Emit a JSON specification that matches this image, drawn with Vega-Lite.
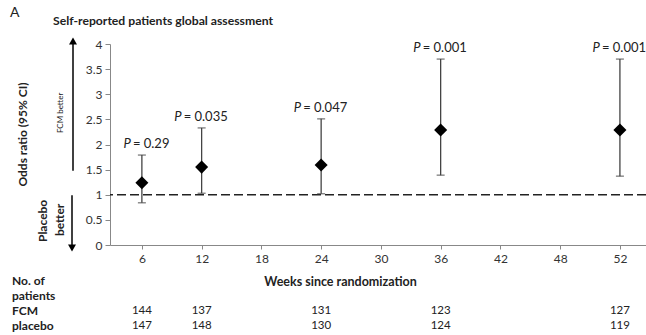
{
  "$schema": "https://vega.github.io/schema/vega-lite/v6.json",
  "width": 536,
  "height": 201,
  "autosize": {"type": "none"},
  "padding": {"left": 110, "top": 44, "right": 0, "bottom": 90},
  "background": "white",
  "config": {
    "font": "Lato",
    "view": {"stroke": null},
    "axis": {"grid": false},
    "axisY": {"tickCount": 9, "labelOverlap": false}
  },
  "datasets": {
    "odds": [
      {"week": 6, "or": 1.24, "lo": 0.84, "hi": 1.79, "p": "0.29"},
      {"week": 12, "or": 1.55, "lo": 1.03, "hi": 2.33, "p": "0.035"},
      {"week": 24, "or": 1.59, "lo": 1.02, "hi": 2.51, "p": "0.047"},
      {"week": 36, "or": 2.29, "lo": 1.39, "hi": 3.70, "p": "0.001"},
      {"week": 52, "or": 2.29, "lo": 1.37, "hi": 3.70, "p": "0.001"}
    ],
    "patients": [
      {"week": 6, "row": "FCM", "n": 144},
      {"week": 12, "row": "FCM", "n": 137},
      {"week": 24, "row": "FCM", "n": 131},
      {"week": 36, "row": "FCM", "n": 123},
      {"week": 52, "row": "FCM", "n": 127},
      {"week": 6, "row": "placebo", "n": 147},
      {"week": 12, "row": "placebo", "n": 148},
      {"week": 24, "row": "placebo", "n": 130},
      {"week": 36, "row": "placebo", "n": 124},
      {"week": 52, "row": "placebo", "n": 119}
    ],
    "rowLabels": [
      {"row": "No. of"},
      {"row": "patients"},
      {"row": "FCM"},
      {"row": "placebo"}
    ]
  },
  "layer": [
    {
      "data": {"name": "odds"},
      "encoding": {
        "x": {
          "field": "week",
          "type": "ordinal",
          "scale": {
            "type": "point",
            "domain": [6, 12, 18, 24, 30, 36, 42, 48, 52],
            "padding": 0.485,
            "align": 0.55
          },
          "axis": {
            "title": "Weeks since randomization",
            "labelAngle": 0,
            "tickSize": 4,
            "labelPadding": 4,
            "labelFontSize": 12,
            "labelColor": "#333333",
            "domainColor": "#888888",
            "tickColor": "#888888",
            "titleFontSize": 12.5,
            "titleFontWeight": "bold",
            "titleColor": "#222222",
            "titleX": 230,
            "titleY": 36,
            "titleBaseline": "middle"
          }
        }
      },
      "layer": [
        {
          "mark": {"type": "rule", "color": "#444444", "strokeWidth": 1.3},
          "encoding": {
            "y": {
              "field": "lo",
              "type": "quantitative",
              "scale": {"domain": [0, 4], "nice": false},
              "axis": {
                "title": "Odds ratio (95% CI)",
                "values": [0, 0.5, 1, 1.5, 2, 2.5, 3, 3.5, 4],
                "tickCount": 9,
                "labelOverlap": false,
                "format": "~g",
                "tickSize": 5,
                "labelPadding": 3,
                "labelFontSize": 12,
                "labelColor": "#333333",
                "domainColor": "#888888",
                "tickColor": "#888888",
                "titleFontSize": 12,
                "titleFontWeight": "bold",
                "titleColor": "#222222",
                "titleAngle": -90,
                "titleX": -88,
                "titleY": 90,
                "titleBaseline": "middle"
              }
            },
            "y2": {"field": "hi"}
          }
        },
        {
          "data": {"values": [{}]},
          "mark": {"type": "rule", "color": "#222222", "strokeWidth": 1.6, "strokeDash": [9, 4]},
          "encoding": {"x": null, "y": {"datum": 1}}
        },
        {
          "mark": {"type": "tick", "color": "#444444", "size": 8, "thickness": 1.3},
          "encoding": {"y": {"field": "hi", "type": "quantitative"}}
        },
        {
          "mark": {"type": "tick", "color": "#444444", "size": 8, "thickness": 1.3},
          "encoding": {"y": {"field": "lo", "type": "quantitative"}}
        },
        {
          "mark": {"type": "point", "shape": "diamond", "filled": true, "color": "black", "size": 170, "opacity": 1},
          "encoding": {"y": {"field": "or", "type": "quantitative"}}
        },
        {
          "mark": {
            "type": "text",
            "text": "P",
            "fontStyle": "italic",
            "fontSize": 13,
            "color": "#222222",
            "align": "right",
            "baseline": "middle",
            "dy": -11,
            "dx": {"expr": "length(datum.p) > 4 ? -20 : -11"}
          },
          "encoding": {"y": {"field": "hi", "type": "quantitative"}}
        },
        {
          "mark": {
            "type": "text",
            "text": {"expr": "'= ' + datum.p"},
            "fontSize": 13,
            "color": "#222222",
            "align": "left",
            "baseline": "middle",
            "dy": -11,
            "dx": {"expr": "length(datum.p) > 4 ? -18 : -9"}
          },
          "encoding": {"y": {"field": "hi", "type": "quantitative"}}
        },
        {
          "data": {"values": [{}]},
          "mark": {"type": "rule", "color": "black", "strokeWidth": 1.5},
          "encoding": {"x": {"value": -37}, "y": {"datum": 1.48}, "y2": {"datum": 4.02}}
        },
        {
          "data": {"values": [{}]},
          "mark": {"type": "point", "shape": "triangle-up", "filled": true, "color": "black", "size": 64, "opacity": 1},
          "encoding": {"x": {"value": -37}, "y": {"datum": 4.06}}
        },
        {
          "data": {"values": [{}]},
          "mark": {"type": "rule", "color": "black", "strokeWidth": 1.5},
          "encoding": {"x": {"value": -38}, "y": {"datum": -0.02}, "y2": {"datum": 0.99}}
        },
        {
          "data": {"values": [{}]},
          "mark": {"type": "point", "shape": "triangle-down", "filled": true, "color": "black", "size": 64, "opacity": 1},
          "encoding": {"x": {"value": -38}, "y": {"datum": -0.06}}
        },
        {
          "data": {"values": [{}]},
          "mark": {"type": "text", "text": "FCM better", "angle": 270, "fontSize": 8, "color": "#222222", "align": "center", "baseline": "middle"},
          "encoding": {"x": {"value": -49}, "y": {"datum": 2.63}}
        },
        {
          "data": {"values": [{}]},
          "mark": {"type": "text", "text": "Placebo", "angle": 270, "fontSize": 12, "fontWeight": "bold", "color": "#222222", "align": "center", "baseline": "middle"},
          "encoding": {"x": {"value": -67}, "y": {"datum": 0.48}}
        },
        {
          "data": {"values": [{}]},
          "mark": {"type": "text", "text": "better", "angle": 270, "fontSize": 12, "fontWeight": "bold", "color": "#222222", "align": "center", "baseline": "middle"},
          "encoding": {"x": {"value": -50}, "y": {"datum": 0.5}}
        },
        {
          "data": {"values": [{}]},
          "mark": {"type": "text", "text": "A", "fontSize": 14, "color": "#222222", "align": "left", "baseline": "middle"},
          "encoding": {"x": {"value": -100}, "y": {"value": -31}}
        },
        {
          "data": {"values": [{}]},
          "mark": {"type": "text", "text": "Self-reported patients global assessment", "fontSize": 12.2, "fontWeight": "bold", "color": "#222222", "align": "left", "baseline": "middle"},
          "encoding": {"x": {"value": -57}, "y": {"value": -23}}
        }
      ]
    },
    {
      "encoding": {
        "y": {
          "field": "row",
          "type": "nominal",
          "scale": {"type": "point", "domain": ["No. of", "patients", "FCM", "placebo"], "range": [237, 282], "padding": 0},
          "axis": null
        }
      },
      "layer": [
        {
          "data": {"name": "rowLabels"},
          "mark": {"type": "text", "fontSize": 12, "fontWeight": "bold", "color": "#222222", "align": "left", "baseline": "middle"},
          "encoding": {
            "x": {"value": -98},
            "text": {"field": "row"}
          }
        },
        {
          "data": {"name": "patients"},
          "mark": {"type": "text", "fontSize": 11.5, "color": "#222222", "align": "center", "baseline": "middle"},
          "encoding": {
            "x": {"field": "week", "type": "ordinal"},
            "text": {"field": "n", "type": "quantitative"}
          }
        }
      ]
    }
  ],
  "resolve": {"scale": {"y": "independent"}}
}
